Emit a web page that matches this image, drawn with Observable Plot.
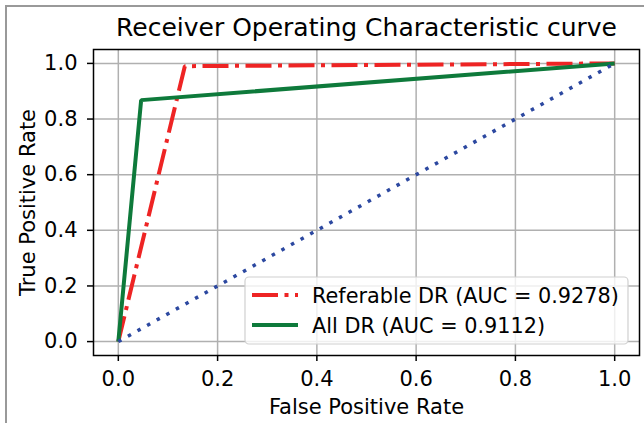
<!DOCTYPE html>
<html>
<head>
<meta charset="utf-8">
<script src="https://cdn.jsdelivr.net/npm/d3@7"></script>
<script src="https://cdn.jsdelivr.net/npm/@observablehq/plot@0.6"></script>
<style>
  html, body { margin: 0; padding: 0; background: #fff; }
  #wrap { position: relative; width: 644px; height: 423px; overflow: hidden; }
  #border { position: absolute; left: 5px; top: 5px; width: 700px; height: 500px;
            border-left: 2px solid #999; border-top: 2px solid #999; pointer-events: none; }
</style>
</head>
<body>
<div id="wrap"><div id="border"></div></div>
<script>
// ---- data ----
const titleText = "Receiver Operating Characteristic curve";
const xLabel = "False Positive Rate";
const yLabel = "True Positive Rate";
const seriesNames = ["Referable DR (AUC = 0.9278)", "All DR (AUC = 0.9112)"];
const fprReferable = [0, 0.134, 1];
const tprReferable = [0, 0.990, 1];
const fprAll = [0, 0.046, 1];
const tprAll = [0, 0.868, 1];
const fprChance = [0, 1];
const tprChance = [0, 1];
const xTicks = [0, 0.2, 0.4, 0.6, 0.8, 1.0];
const yTicks = [0, 0.2, 0.4, 0.6, 0.8, 1.0];

const colRef = "#ee2424";
const colAll = "#0e7a3b";
const colChance = "#2c48a0";
const dashRef = "26,6.5,4,6.5";
const FS = 21;

const pts = (xs, ys) => xs.map((x, i) => ({x, y: ys[i]}));

const plot = Plot.plot({
  width: 644,
  height: 423,
  marginLeft: 93,
  marginRight: 5,
  marginTop: 49,
  marginBottom: 68,
  style: {fontFamily: "DejaVu Sans", fontSize: FS + "px", color: "#000", background: "transparent"},
  x: {domain: [-0.05, 1.05]},
  y: {domain: [-0.05, 1.05]},
  marks: [
    Plot.gridX(xTicks, {stroke: "#b0b0b0", strokeOpacity: 1, strokeWidth: 1.5}),
    Plot.gridY(yTicks, {stroke: "#b0b0b0", strokeOpacity: 1, strokeWidth: 1.5}),
    Plot.axisX({ticks: xTicks, tickFormat: d => d.toFixed(1), tickSize: 6, tickPadding: 10, label: null, strokeWidth: 1.5, fontSize: FS}),
    Plot.axisY({ticks: yTicks, tickFormat: d => d.toFixed(1), tickSize: 6, tickPadding: 10, label: null, strokeWidth: 1.5, fontSize: FS}),
    Plot.line(pts(fprReferable, tprReferable), {x: "x", y: "y", stroke: colRef, strokeWidth: 4, strokeDasharray: dashRef, strokeLinecap: "butt", strokeLinejoin: "miter"}),
    Plot.line(pts(fprAll, tprAll), {x: "x", y: "y", stroke: colAll, strokeWidth: 4, strokeLinecap: "butt", strokeLinejoin: "miter"}),
    Plot.line(pts(fprChance, tprChance), {x: "x", y: "y", stroke: colChance, strokeWidth: 3.5, strokeDasharray: "3.5,7.5", strokeLinecap: "butt"}),
    Plot.frame({stroke: "#000", strokeWidth: 1.5}),
    Plot.text([titleText], {frameAnchor: "top", dy: -14, lineAnchor: "bottom", fontSize: 25, fill: "#000"}),
    Plot.text([xLabel], {frameAnchor: "bottom", dy: 58, lineAnchor: "bottom", fontSize: FS, fill: "#000"}),
    Plot.text([yLabel], {frameAnchor: "left", dx: -59, rotate: -90, textAnchor: "middle", lineAnchor: "bottom", fontSize: FS, fill: "#000"})
  ]
});

document.getElementById("wrap").appendChild(plot);
plot.style.position = "absolute";
plot.style.left = "0px";
plot.style.top = "0px";

// ---- legend (lower right inside frame) ----
const svg = d3.select(plot);
const lg = svg.append("g").attr("font-family", "DejaVu Sans").attr("font-size", FS).attr("text-anchor", "start");
lg.append("rect")
  .attr("x", 245).attr("y", 277).attr("width", 383).attr("height", 67)
  .attr("rx", 4).attr("ry", 4)
  .attr("fill", "#fff").attr("fill-opacity", 0.8)
  .attr("stroke", "#d0d0d0").attr("stroke-width", 1.2);
const legendItems = [
  {name: seriesNames[0], color: colRef, dash: dashRef},
  {name: seriesNames[1], color: colAll, dash: null}
];
const texts = [];
legendItems.forEach((it, i) => {
  const cy = 295 + i * 30;
  const ln = lg.append("line")
    .attr("x1", 252).attr("x2", 298).attr("y1", cy).attr("y2", cy)
    .attr("stroke", it.color).attr("stroke-width", 4);
  if (it.dash) ln.attr("stroke-dasharray", it.dash);
  texts.push(lg.append("text")
    .attr("x", 312).attr("y", cy + 7.5)
    .attr("fill", "#000")
    .attr("text-anchor", "start")
    .text(it.name));
});
// fit legend font so the first entry spans ~307px like the reference
const w0 = texts[0].node().getComputedTextLength();
if (w0 > 0) {
  const fs = Math.max(18, Math.min(24, FS * 307 / w0));
  lg.attr("font-size", fs);
}
</script>
</body>
</html>
